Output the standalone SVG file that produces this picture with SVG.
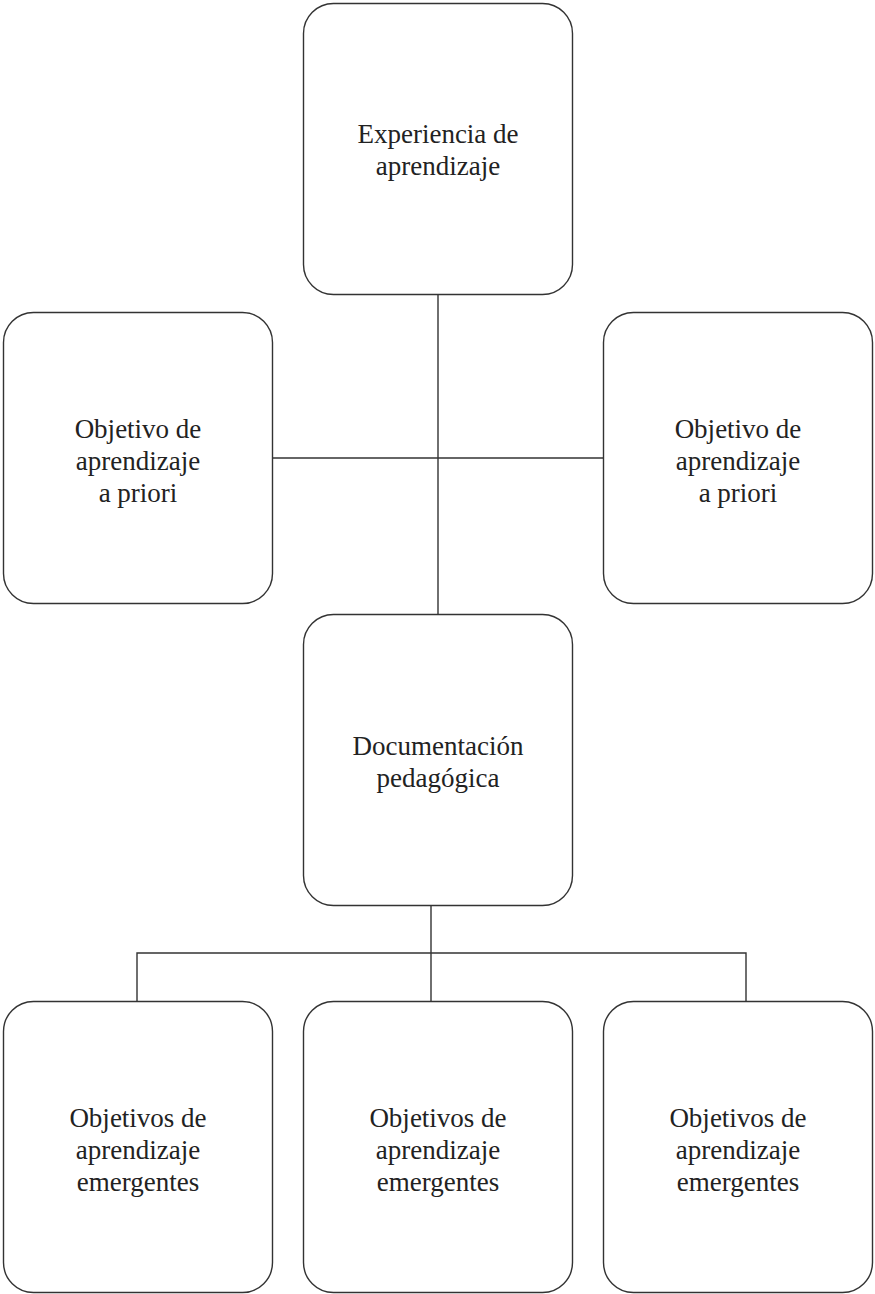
<svg xmlns="http://www.w3.org/2000/svg" width="875" height="1294" viewBox="0 0 875 1294">
<style>
.box{fill:#fff;stroke:#333;stroke-width:1.4}
.con{fill:none;stroke:#333;stroke-width:1.4}
text{font-family:"Liberation Serif","DejaVu Serif",serif;font-size:27px;fill:#222;text-anchor:middle}
</style>
<rect width="875" height="1294" fill="#fff"/>
<g id="connectors">
<line class="con" x1="438" y1="294" x2="438" y2="614"/>
<line class="con" x1="272" y1="458" x2="604" y2="458"/>
<line class="con" x1="431" y1="906" x2="431" y2="1002"/>
<polyline class="con" points="137,1002 137,953 746,953 746,1002"/>
</g>
<g id="n-experiencia">
<rect class="box" x="303.5" y="3.5" width="269" height="291" rx="30"/>
<text x="438" y="143">Experiencia de</text>
<text x="438" y="175">aprendizaje</text>
</g>
<g id="n-objetivo-left">
<rect class="box" x="3.5" y="312.5" width="269" height="291" rx="30"/>
<text x="138" y="438">Objetivo de</text>
<text x="138" y="470">aprendizaje</text>
<text x="138" y="502">a priori</text>
</g>
<g id="n-objetivo-right">
<rect class="box" x="603.5" y="312.5" width="269" height="291" rx="30"/>
<text x="738" y="438">Objetivo de</text>
<text x="738" y="470">aprendizaje</text>
<text x="738" y="502">a priori</text>
</g>
<g id="n-documentacion">
<rect class="box" x="303.5" y="614.5" width="269" height="291" rx="30"/>
<text x="438" y="755">Documentación</text>
<text x="438" y="787">pedagógica</text>
</g>
<g id="n-emergentes-1">
<rect class="box" x="3.5" y="1001.5" width="269" height="291" rx="30"/>
<text x="138" y="1127">Objetivos de</text>
<text x="138" y="1159">aprendizaje</text>
<text x="138" y="1191">emergentes</text>
</g>
<g id="n-emergentes-2">
<rect class="box" x="303.5" y="1001.5" width="269" height="291" rx="30"/>
<text x="438" y="1127">Objetivos de</text>
<text x="438" y="1159">aprendizaje</text>
<text x="438" y="1191">emergentes</text>
</g>
<g id="n-emergentes-3">
<rect class="box" x="603.5" y="1001.5" width="269" height="291" rx="30"/>
<text x="738" y="1127">Objetivos de</text>
<text x="738" y="1159">aprendizaje</text>
<text x="738" y="1191">emergentes</text>
</g>
</svg>
